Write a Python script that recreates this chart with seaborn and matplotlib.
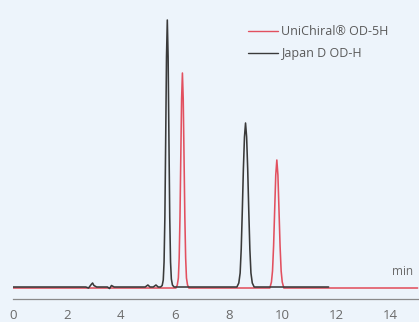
import matplotlib
matplotlib.use("Agg")
import matplotlib.pyplot as plt
from matplotlib.lines import Line2D
from matplotlib.ticker import MultipleLocator
import pandas as pd
import seaborn as sns

# Retention time (min) and detector signal for each column
japan_t = [0.0, 2.70, 2.80, 2.90, 2.95, 3.00, 3.10, 3.50, 3.58, 3.65, 3.75,
           4.90, 5.00, 5.08, 5.20, 5.30, 5.38,
           5.47, 5.53, 5.57, 5.60, 5.63, 5.66, 5.69, 5.72, 5.75, 5.78, 5.81,
           5.84, 5.87, 5.91, 5.97,
           8.30, 8.37, 8.42, 8.46, 8.50, 8.54, 8.58, 8.62, 8.66, 8.70, 8.74,
           8.78, 8.82, 8.87, 8.94, 11.70]
japan_y = [0.0, 0.0, -1.0, 2.5, 4.0, 1.5, 0.0, 0.0, -1.5, 1.5, 0.0,
           0.0, 2.0, 0.0, 0.0, 2.0, 0.0,
           0.0, 1.5, 7.0, 25.0, 70.0, 148.0, 230.0, 267.0, 230.0, 148.0, 70.0,
           25.0, 8.0, 2.0, 0.0,
           0.0, 4.0, 14.0, 38.0, 76.0, 118.0, 150.0, 164.0, 150.0, 118.0, 76.0,
           38.0, 14.0, 4.0, 0.0, 0.0]

uni_t = [0.0, 6.04, 6.09, 6.13, 6.16, 6.19, 6.22, 6.25, 6.28, 6.31, 6.34,
         6.37, 6.40, 6.43, 6.47, 6.52,
         9.52, 9.58, 9.62, 9.66, 9.70, 9.74, 9.78, 9.82, 9.86, 9.90, 9.94,
         9.98, 10.04, 15.0]
uni_y = [-1.0, -1.0, 2.0, 9.0, 29.0, 70.0, 130.0, 188.0, 214.0, 188.0, 130.0,
         70.0, 29.0, 9.0, 2.0, -1.0,
         -1.0, 5.0, 16.0, 41.0, 77.0, 112.0, 127.0, 112.0, 77.0, 41.0, 16.0,
         5.0, -1.0, -1.0]

series_names = ["UniChiral\u00ae OD-5H", "Japan D OD-H"]
x_ticks = [0, 2, 4, 6, 8, 10, 12, 14]

df = pd.concat([
    pd.DataFrame({"t": uni_t, "signal": uni_y, "column": series_names[0]}),
    pd.DataFrame({"t": japan_t, "signal": japan_y, "column": series_names[1]}),
])

palette = {series_names[0]: "#e2505f", series_names[1]: "#3a3a3a"}
bg = "#edf4fb"

sns.set_style("white")
plt.rcParams["font.family"] = ["Open Sans", "DejaVu Sans"]

fig = plt.figure(figsize=(4.19, 3.22), dpi=100, facecolor=bg)
ax = fig.add_axes([13 / 419, 23 / 322, 406 / 419, 299 / 322])
ax.set_facecolor(bg)

sns.lineplot(data=df, x="t", y="signal", hue="column", palette=palette,
             hue_order=series_names, sort=False, estimator=None,
             linewidth=1.15, legend=False, ax=ax)

ax.set_xlim(0, 15.05)
ax.set_ylim(-12, 287)
ax.set_xlabel("")
ax.set_ylabel("")
ax.set_yticks([])
ax.set_xticks(x_ticks)
ax.xaxis.set_minor_locator(MultipleLocator(1))
ax.tick_params(axis="x", which="major", direction="in", length=3.5, width=0.8,
               color="#8a8a8a", labelsize=9.5, labelcolor="#6a6a6a", pad=7)
ax.tick_params(axis="x", which="minor", direction="in", length=2.5, width=0.8,
               color="#8a8a8a")
for side in ["top", "right", "left"]:
    ax.spines[side].set_visible(False)
ax.spines["bottom"].set_color("#8a8a8a")
ax.spines["bottom"].set_linewidth(0.9)

ax.text(14.45, 9, "min", ha="center", va="bottom", fontsize=8.5,
        color="#6a6a6a")

handles = [Line2D([], [], color=palette[n], lw=1.0) for n in series_names]
leg = ax.legend(handles, series_names, loc="upper left",
                bbox_to_anchor=((248 - 13) / 406, 1 - 25 / 299),
                frameon=False, fontsize=9, borderpad=0, borderaxespad=0,
                handlelength=2.4, handletextpad=0.25, labelspacing=0.75)
for txt in leg.get_texts():
    txt.set_color("#5a5a5a")

fig.savefig("out.png", dpi=100, facecolor=bg)
